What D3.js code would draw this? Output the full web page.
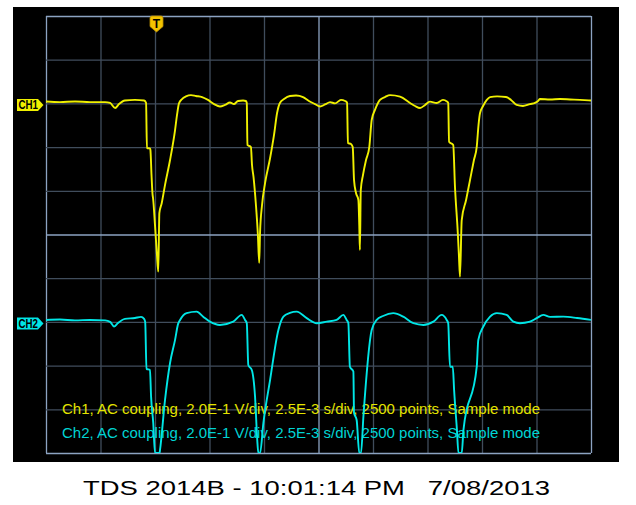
<!DOCTYPE html>
<html>
<head>
<meta charset="utf-8">
<script src="https://cdn.jsdelivr.net/npm/d3@7"></script>
<style>
  html, body { margin: 0; padding: 0; background: #ffffff; }
  svg { display: block; }
  text { font-family: "Liberation Sans", Arial, Helvetica, sans-serif; white-space: pre; }
</style>
</head>
<body>
<svg id="chart" width="636" height="505"></svg>
<script>
// ---- Data (time in ms relative to trigger, amplitude in volts) ----
const timeTicks = [-5, -2.5, 0, 2.5, 5, 7.5, 10, 12.5, 15, 17.5, 20];
const divTicks = [-5, -4, -3, -2, -1, 0, 1, 2, 3, 4, 5];

const ch1Time = [-5.00,-4.36,-3.67,-2.98,-2.29,-2.06,-1.83,-1.65,-1.38,-0.92,-0.50,-0.41,-0.37,-0.23,-0.21,-0.16,-0.11,-0.09,0.00,0.09,0.15,0.20,0.31,0.46,0.69,0.92,1.01,1.10,1.24,1.42,1.65,1.88,2.16,2.43,2.71,2.98,3.21,3.44,3.62,3.81,4.04,4.17,4.21,4.24,4.40,4.45,4.52,4.63,4.72,4.78,4.82,4.91,5.05,5.28,5.46,5.60,5.73,5.92,6.19,6.47,6.79,7.06,7.34,7.57,7.80,8.03,8.26,8.53,8.72,8.81,8.85,8.99,9.07,9.13,9.22,9.33,9.37,9.40,9.44,9.54,9.68,9.83,9.94,10.09,10.32,10.55,10.78,11.24,11.70,11.93,12.16,12.39,12.61,12.92,13.21,13.39,13.45,13.49,13.68,13.76,13.89,13.94,13.99,14.07,14.27,14.45,14.63,14.76,14.84,14.91,15.05,15.22,15.37,15.69,16.10,16.33,16.59,16.88,17.20,17.43,17.57,17.66,18.12,18.58,19.04,19.50,20.00];
const ch1Volts = [0.009,0.006,0.009,0.006,0.006,0.002,-0.021,-0.003,0.013,0.016,0.013,0.002,-0.204,-0.206,-0.213,-0.328,-0.419,-0.433,-0.557,-0.694,-0.770,-0.502,-0.456,-0.373,-0.259,-0.122,-0.053,0.000,0.020,0.032,0.038,0.034,0.029,0.016,-0.003,-0.014,-0.007,0.004,-0.003,0.011,0.013,0.011,0.002,-0.190,-0.200,-0.282,-0.337,-0.465,-0.602,-0.730,-0.589,-0.465,-0.364,-0.250,-0.144,-0.044,0.002,0.020,0.034,0.036,0.029,0.011,-0.003,-0.014,-0.005,0.006,0.000,0.016,0.011,0.004,-0.181,-0.186,-0.200,-0.351,-0.410,-0.442,-0.557,-0.671,-0.396,-0.328,-0.259,-0.200,-0.076,-0.030,0.016,0.029,0.038,0.031,0.002,-0.012,-0.021,-0.007,0.008,0.002,0.016,0.009,0.002,-0.175,-0.190,-0.381,-0.593,-0.694,-0.793,-0.534,-0.442,-0.351,-0.259,-0.198,-0.099,-0.044,-0.012,0.016,0.029,0.032,0.029,0.016,-0.007,-0.012,-0.003,0.002,0.011,0.020,0.018,0.020,0.018,0.016,0.013];

const ch2Time = [-5.00,-4.36,-3.67,-2.98,-2.29,-2.06,-1.88,-1.70,-1.38,-0.92,-0.64,-0.50,-0.45,-0.39,-0.23,-0.18,-0.08,0.00,0.21,0.23,0.46,0.69,0.92,1.06,1.15,1.45,1.91,2.21,2.52,2.98,3.59,3.98,4.13,4.21,4.28,4.44,4.59,4.69,4.74,4.82,4.97,5.28,5.66,5.89,6.19,6.50,6.96,7.42,7.88,8.33,8.64,8.79,8.87,8.94,9.10,9.13,9.25,9.37,9.45,9.56,9.94,10.17,10.46,10.93,11.39,11.85,12.31,12.77,13.15,13.38,13.45,13.53,13.66,13.72,13.85,13.92,14.07,14.15,14.76,14.83,15.06,15.37,15.68,16.13,16.44,16.74,17.20,17.51,17.81,18.12,18.73,19.36,20.00];
const ch2Volts = [0.009,0.011,0.007,0.009,0.007,0.000,-0.021,-0.005,0.014,0.018,0.023,0.014,0.000,-0.215,-0.220,-0.342,-0.462,-0.600,-0.600,-0.586,-0.357,-0.188,-0.082,-0.009,0.009,0.040,0.047,0.024,0.001,-0.014,0.001,0.032,0.009,-0.006,-0.197,-0.220,-0.343,-0.540,-0.600,-0.600,-0.464,-0.265,-0.037,0.024,0.041,0.047,0.017,-0.006,0.001,0.009,0.032,0.009,-0.006,-0.205,-0.227,-0.416,-0.449,-0.600,-0.600,-0.433,-0.037,0.009,0.027,0.040,0.024,-0.006,-0.014,0.001,0.032,0.009,-0.006,-0.205,-0.205,-0.311,-0.494,-0.600,-0.600,-0.494,-0.205,-0.082,-0.022,0.024,0.040,0.032,0.001,-0.006,0.001,0.017,0.032,0.023,0.024,0.018,0.009];

const infoLines = [
  "Ch1, AC coupling, 2.0E-1 V/div, 2.5E-3 s/div, 2500 points, Sample mode",
  "Ch2, AC coupling, 2.0E-1 V/div, 2.5E-3 s/div, 2500 points, Sample mode"
];
const footer = "TDS 2014B - 10:01:14 PM   7/08/2013";

// ---- Layout ----
const svg = d3.select("#chart");
const plot = { left: 46, right: 591, top: 16, bottom: 453 };
const voltsPerDiv = 0.2;
const ch1Pos = 3, ch2Pos = -2;
const colYellow = "#f0f000", colCyan = "#00e6e6";
const gridCol = "#404d5c", gridBright = "#8ca3c2";

svg.append("rect").attr("x", 13).attr("y", 7).attr("width", 606).attr("height", 455).attr("fill", "#000");

const x = d3.scaleLinear().domain([-5, 20]).range([plot.left, plot.right]);
const y = d3.scaleLinear().domain([-5, 5]).range([plot.bottom, plot.top]);

// grid via axes
const gx = svg.append("g").attr("transform", `translate(0,${plot.bottom})`)
  .call(d3.axisBottom(x).tickValues(timeTicks).tickSize(-(plot.bottom - plot.top)).tickFormat(""));
const gy = svg.append("g").attr("transform", `translate(${plot.left},0)`)
  .call(d3.axisLeft(y).tickValues(divTicks).tickSize(-(plot.right - plot.left)).tickFormat(""));
[gx, gy].forEach(g => {
  g.select(".domain").remove();
  g.selectAll(".tick line").attr("stroke", gridCol).attr("stroke-width", 1.3);
});
gx.selectAll(".tick line").filter(d => d === -5 || d === 20 || d === 7.5).attr("stroke", gridBright);
gy.selectAll(".tick line").filter(d => d === -5 || d === 5 || d === 0).attr("stroke", gridBright);
gx.selectAll(".tick").filter(d => d === -5 || d === 20 || d === 7.5).raise();
gy.selectAll(".tick").filter(d => d === -5 || d === 5 || d === 0).raise();

// info text
svg.selectAll("text.info").data(infoLines).join("text")
  .attr("class", "info")
  .attr("x", 62).attr("y", (d, i) => 414 + i * 24)
  .attr("font-size", 14)
  .attr("textLength", 478).attr("lengthAdjust", "spacingAndGlyphs")
  .attr("fill", (d, i) => i === 0 ? "#e4e400" : "#00d4d4")
  .text(d => d);

// traces
svg.append("clipPath").attr("id", "clip").append("rect")
  .attr("x", plot.left).attr("y", plot.top).attr("width", plot.right - plot.left).attr("height", plot.bottom - plot.top);

function trace(times, volts, pos, color) {
  const pts = times.map((t, i) => [t, volts[i]]);
  const line = d3.line().curve(d3.curveMonotoneX).x(d => x(d[0])).y(d => y(pos + d[1] / voltsPerDiv));
  svg.append("path").attr("d", line(pts)).attr("clip-path", "url(#clip)")
    .attr("fill", "none").attr("stroke", color).attr("stroke-width", 1.9)
    .attr("stroke-linejoin", "round");
}
trace(ch1Time, ch1Volts, ch1Pos, colYellow);
trace(ch2Time, ch2Volts, ch2Pos, colCyan);

// channel markers
function chMarker(label, pos, fill) {
  const cy = y(pos) + 1.5;
  const g = svg.append("g");
  g.append("path")
    .attr("d", `M17,${cy - 6} L38,${cy - 6} L43.5,${cy} L38,${cy + 6} L17,${cy + 6} Z`)
    .attr("fill", fill);
  g.append("text").attr("x", 18.5).attr("y", cy + 4.5).attr("font-size", 12)
    .attr("font-weight", "bold").attr("fill", "#000").attr("textLength", 19.5).attr("lengthAdjust", "spacingAndGlyphs").text(label);
}
chMarker("CH1", ch1Pos, colYellow);
chMarker("CH2", ch2Pos, colCyan);

// trigger marker
const tx = x(0) + 1.5;
svg.append("path")
  .attr("d", `M${tx - 6.5},${plot.top + 2} Q${tx - 6.5},${plot.top} ${tx - 4.5},${plot.top} L${tx + 4.5},${plot.top} Q${tx + 6.5},${plot.top} ${tx + 6.5},${plot.top + 2} L${tx + 6.5},${plot.top + 10.5} L${tx},${plot.top + 16} L${tx - 6.5},${plot.top + 10.5} Z`)
  .attr("fill", "#f2c200").attr("stroke", "#b58a00").attr("stroke-width", 0.8);
svg.append("text").attr("x", tx).attr("y", plot.top + 11.5).attr("text-anchor", "middle")
  .attr("font-size", 12).attr("font-weight", "bold").attr("fill", "#000").text("T");

// footer
svg.append("text").attr("x", 83).attr("y", 494.5).attr("font-size", 20.5)
  .attr("textLength", 467).attr("lengthAdjust", "spacingAndGlyphs")
  .attr("fill", "#000").text(footer);
</script>
</body>
</html>
